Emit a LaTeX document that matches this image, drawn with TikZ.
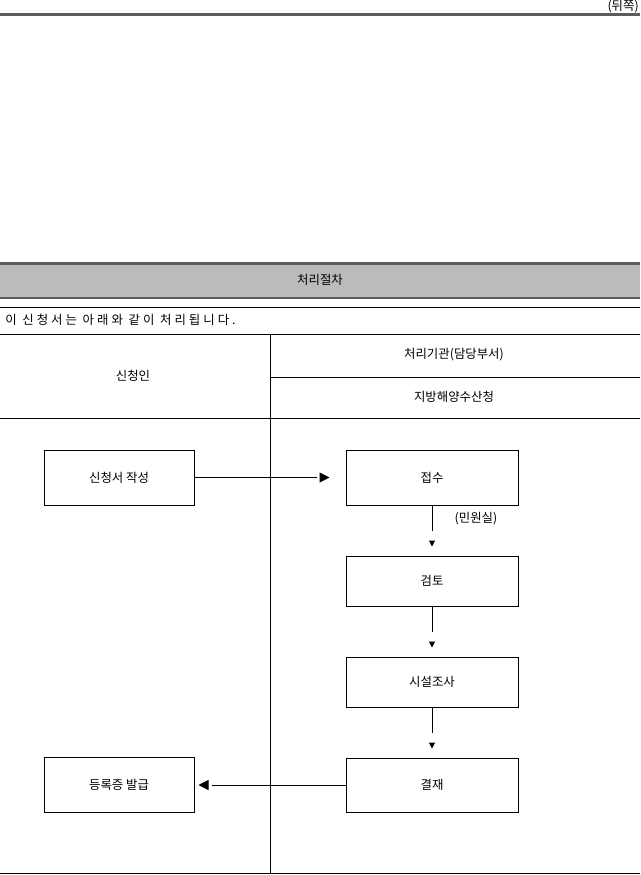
\documentclass[tikz,border=0pt]{standalone}
\usepackage{fontspec}
\setmainfont{Noto Sans CJK KR}
\usepackage{xcolor}
\usetikzlibrary{arrows.meta}
\usetikzlibrary{calc}
\usetikzlibrary{positioning}
\definecolor{bar_gray}{HTML}{BBBBBB}
\definecolor{rule_gray}{HTML}{5C5C5C}

\begin{document}
\begin{tikzpicture}[x=0.75pt, y=-0.75pt, font=\fontsize{9.3}{11}\selectfont,
	left_node/.style={draw, line width=0.75pt, minimum width=112.5pt, minimum height=41.25pt, inner sep=0pt},
	right_node/.style={draw, line width=0.75pt, minimum width=129pt, minimum height=#1, inner sep=0pt},
	h_arrow/.style={line width=0.75pt, -{Triangle[length=7.5pt,width=7.5pt]}, dash pattern=on #1 off 300pt},
	v_arrow/.style={line width=0.75pt, -{Triangle[length=4.5pt,width=4.5pt]}, dash pattern=on 18.75pt off 300pt, shorten >=6.75pt},
	table_line/.style={line width=0.75pt}]
	
	\useasboundingbox (0,0) rectangle (640,875);
	
	% top of the page
	\node[anchor=east, inner sep=0pt] (side) at (639,6.5) {(뒤쪽)};
	\draw[rule_gray, line width=2.25pt] (0,14.5) -- (640,14.5);
	
	% title bar
	\fill[bar_gray] (0,263) rectangle (640,297);
	\draw[rule_gray, line width=2.25pt] (0,263.5) -- (640,263.5);
	\draw[rule_gray, line width=1.5pt] (0,297.5) -- (640,297.5);
	\node (title) at (320,280) {처리절차};
	
	% table
	\draw[table_line] (0,307) -- (640,307);
	\draw[table_line] (0,334) -- (640,334);
	\draw[table_line] (270,377) -- (640,377);
	\draw[table_line] (0,418) -- (640,418);
	\draw[table_line] (0,873.5) -- (640,873.5);
	\draw[table_line] (270,334) -- (270,873.5);
	\node[anchor=west, inner sep=0pt] (note) at (5,320) {\addfontfeature{LetterSpace=24}이 신청서는 아래와 같이 처리됩니다.};
	\node (applicant) at (133,376) {신청인};
	\node (office) at (454,355) {처리기관(담당부서)};
	\node (dept) at (454,397) {지방해양수산청};
	
	% flow
	\node[left_node] (s1) at (119,477.5) {신청서 작성};
	\node[left_node] (s2) at (119,785) {등록증 발급};
	\node[right_node=41.25pt] (r1) at (432,477.5) {접수};
	\node[right_node=37.5pt] (r2) at (432,581) {검토};
	\node[right_node=37.5pt] (r3) at (432,682) {시설조사};
	\node[right_node=40.5pt] (r4) at (432,785) {결재};
	\node (room) at (476,519) {(민원실)};
	
	\path
	(s1) edge[h_arrow=91.5pt, shorten >=12pt] (r1)
	(r1) edge[v_arrow] (r2)
	(r2) edge[v_arrow] (r3)
	(r3) edge[v_arrow] (r4)
	(r4) edge[h_arrow=100.5pt, shorten >=3pt] (s2);
\end{tikzpicture}
\end{document}
